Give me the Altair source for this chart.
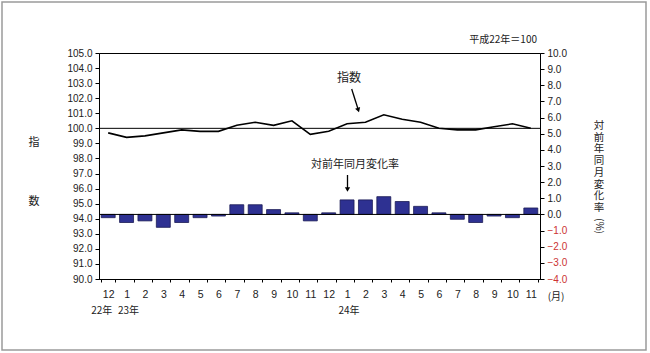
import altair as alt
import pandas as pd

# ---- data ----
months = ["12", "1", "2", "3", "4", "5", "6", "7", "8", "9", "10", "11",
          "12", "1", "2", "3", "4", "5", "6", "7", "8", "9", "10", "11"]
index_values = [99.7, 99.4, 99.5, 99.7, 99.9, 99.8, 99.8, 100.2, 100.4, 100.2, 100.5, 99.6,
                99.8, 100.3, 100.4, 100.9, 100.6, 100.4, 100.0, 99.9, 99.9, 100.1, 100.3, 100.0]
rate_values = [-0.2, -0.5, -0.4, -0.8, -0.5, -0.2, -0.1, 0.6, 0.6, 0.3, 0.1, -0.4,
               0.1, 0.9, 0.9, 1.1, 0.8, 0.5, 0.1, -0.3, -0.5, -0.1, -0.2, 0.4]
index_ticks = [90, 91, 92, 93, 94, 95, 96, 97, 98, 99, 100, 101, 102, 103, 104, 105]
rate_ticks = [-4, -3, -2, -1, 0, 1, 2, 3, 4, 5, 6, 7, 8, 9, 10]
index_base = [100]
rate_base = [0]
year_first = ["22年"]
year_first_pos = [0]
year_rest = ["23年", "24年"]
year_rest_pos = [1, 13]

NUM_FONT = "Liberation Sans"
JP_FONT = "Noto Sans CJK JP"

df = pd.DataFrame({
    "idx": list(range(len(months))),
    "month": months,
    "index": index_values,
    "rate": rate_values,
})
base_df = pd.DataFrame({"index": index_base, "rate": rate_base})
one = pd.DataFrame({"k": [0]})

label_expr = "[" + ",".join(f"'{m}'" for m in months) + "][datum.value]"

x_enc = alt.X(
    "idx:O",
    scale=alt.Scale(paddingInner=0.24, paddingOuter=0.12),
    axis=alt.Axis(
        title=None, labelExpr=label_expr, labelAngle=0, tickBand="extent",
        tickSize=3, labelPadding=7, domainColor="black", tickColor="black",
        labelFont=NUM_FONT, labelFontSize=10.5, labelColor="#222", grid=False,
        labelOverlap=False,
    ),
)

# ---- bars (right axis) ----
rate_y = alt.Y(
    "rate:Q",
    scale=alt.Scale(domain=[-4, 10], nice=False, zero=False),
    axis=alt.Axis(
        orient="right", values=rate_ticks, format=".1f", title=None, grid=False,
        tickSize=4, domainColor="black", tickColor="black", labelPadding=3,
        labelFont=NUM_FONT, labelFontSize=10, labelOverlap=False, labelFlush=False,
        labelColor={"condition": {"test": "datum.value < 0", "value": "#cc3333"}, "value": "#222"},
    ),
)
bars = alt.Chart(df).mark_bar(fill="#2e3192", stroke="#1c1c55", strokeWidth=0.8).encode(
    x=x_enc, y=rate_y
)
zero_rule = alt.Chart(base_df).mark_rule(color="black", strokeWidth=1).encode(y=rate_y)
bar_group = alt.layer(bars, zero_rule)

# ---- line (left axis) ----
index_y = alt.Y(
    "index:Q",
    scale=alt.Scale(domain=[90, 105], nice=False, zero=False),
    axis=alt.Axis(
        orient="left", values=index_ticks, format=".1f", title=None, grid=False,
        tickSize=4, domainColor="black", tickColor="black", labelPadding=3,
        labelFont=NUM_FONT, labelFontSize=10, labelColor="#222",
        labelOverlap=False, labelFlush=False,
    ),
)
line = alt.Chart(df).mark_line(color="black", strokeWidth=1.6).encode(x=x_enc, y=index_y)
hundred_rule = alt.Chart(base_df).mark_rule(color="black", strokeWidth=1).encode(y=index_y)
line_group = alt.layer(hundred_rule, line)

# ---- annotations ----
def txt(text, x, y, size=10, font=JP_FONT, align="center", baseline="middle", **kw):
    return alt.Chart(one).mark_text(
        text=text, font=font, fontSize=size, align=align, baseline=baseline, color="#222", **kw
    ).encode(x=alt.value(x), y=alt.value(y))

frame = alt.Chart(one).mark_rect(filled=False, stroke="#9a9a9a", strokeWidth=1.5).encode(
    x=alt.value(-97), x2=alt.value(547), y=alt.value(-51), y2=alt.value(297)
)

base_note = txt("平成22年＝100", 438, -13, size=10, align="right")
idx_label = txt("指数", 250, 25, size=12)
rate_label = txt("対前年同月変化率", 256, 112, size=11)
left_t1 = txt("指", -65, 90, size=11)
left_t2 = txt("数", -65, 149, size=11)
right_title = alt.Chart(one).mark_text(
    text=["対", "前", "年", "同", "月", "変", "化", "率"],
    font=JP_FONT, fontSize=10.5, lineHeight=11.7, align="center", baseline="top", color="#222",
).encode(x=alt.value(500), y=alt.value(68))
right_unit = txt("(%)", 500, 173, size=10, angle=90)
month_unit = txt("(月)", 457, 244, size=10)

arrow1 = alt.Chart(one).mark_rule(color="black", strokeWidth=1.3).encode(
    x=alt.value(252.7), y=alt.value(36), x2=alt.value(259.0), y2=alt.value(56)
)
head1 = alt.Chart(one).mark_point(shape="triangle-down", filled=True, size=28, color="black",
                                  opacity=1, angle=342).encode(
    x=alt.value(259.3), y=alt.value(57)
)
arrow2 = alt.Chart(one).mark_rule(color="black", strokeWidth=1.3).encode(
    x=alt.value(248.5), y=alt.value(122), x2=alt.value(248.5), y2=alt.value(135)
)
head2 = alt.Chart(one).mark_point(shape="triangle-down", filled=True, size=28, color="black",
                                  opacity=1).encode(
    x=alt.value(248.5), y=alt.value(136.5)
)

years1 = alt.Chart(pd.DataFrame({"idx": year_first_pos, "lab": year_first})).mark_text(
    font=JP_FONT, fontSize=10, dx=-6.5, color="#222"
).encode(x=alt.X("idx:O"), y=alt.value(258), text="lab:N")
years2 = alt.Chart(pd.DataFrame({"idx": year_rest_pos, "lab": year_rest})).mark_text(
    font=JP_FONT, fontSize=10, dx=2, color="#222"
).encode(x=alt.X("idx:O"), y=alt.value(258), text="lab:N")

chart = alt.layer(
    bar_group, line_group, frame, base_note, idx_label, rate_label, left_t1, left_t2,
    right_title, right_unit, month_unit, arrow1, head1, arrow2, head2, years1, years2,
).resolve_scale(y="independent").properties(
    width=441, height=226,
    autosize=alt.AutoSizeParams(type="none"),
    padding={"left": 99, "top": 53, "right": 110, "bottom": 74},
    background="white",
).configure_view(stroke="black", strokeWidth=1)

chart.save("out.html", embed_options={"renderer": "svg", "actions": False})
